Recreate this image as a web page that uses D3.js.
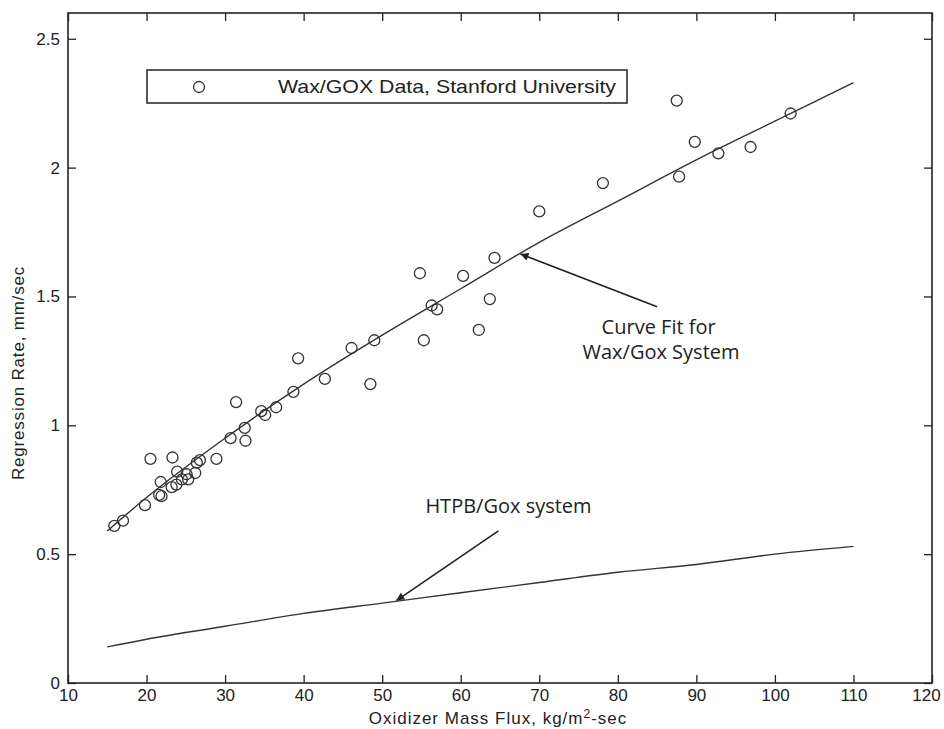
<!DOCTYPE html>
<html>
<head>
<meta charset="utf-8">
<script src="https://cdn.jsdelivr.net/npm/d3@7"></script>
<style>
  body { margin: 0; background: #fff; }
  svg { display: block; }
  .axis text { font-family: "Liberation Sans", Arial, sans-serif; font-size: 17px; fill: #222; }
  .axis line { stroke: #222; stroke-width: 1.3; }
  .axis path { display: none; }
  .lbl { font-family: "Liberation Sans", Arial, sans-serif; fill: #222; }
  .note { font-family: "Open Sans", "DejaVu Sans", sans-serif; fill: #222; }
</style>
</head>
<body>
<div id="chart"></div>
<script>
// measured points (oxidizer mass flux kg/m2-sec, regression rate mm/sec)
const waxFlux = [15.9, 17.0, 19.8, 20.5, 23.3, 21.8, 21.6, 21.9, 23.2, 23.9, 23.8, 24.5, 25.1, 25.3,
  26.2, 26.4, 26.8, 28.9, 30.7, 31.4, 32.5, 32.6, 34.6, 35.1, 36.5, 38.7, 39.3, 42.7, 46.1, 49.0,
  48.5, 54.8, 55.3, 56.3, 57.0, 60.3, 62.3, 63.7, 64.3, 70.0, 78.1, 87.5, 87.8, 89.8, 92.8, 96.9, 102.0];
const waxRate = [0.61, 0.63, 0.69, 0.87, 0.875, 0.78, 0.73, 0.725, 0.76, 0.82, 0.77, 0.79, 0.81, 0.79,
  0.815, 0.855, 0.865, 0.87, 0.95, 1.09, 0.99, 0.94, 1.055, 1.04, 1.07, 1.13, 1.26, 1.18, 1.30, 1.33,
  1.16, 1.59, 1.33, 1.465, 1.45, 1.58, 1.37, 1.49, 1.65, 1.83, 1.94, 2.26, 1.965, 2.10, 2.055, 2.08, 2.21];

// curve fit for wax/gox and the HTPB/gox line
const fitFlux = [15, 20, 30, 40, 50, 60, 70, 80, 90, 100, 110];
const waxFitRate = [0.59, 0.72, 0.95, 1.16, 1.35, 1.53, 1.71, 1.87, 2.03, 2.18, 2.33];
const htpbRate = [0.14, 0.17, 0.22, 0.27, 0.31, 0.35, 0.39, 0.43, 0.46, 0.50, 0.53];

const xTicks = [10, 20, 30, 40, 50, 60, 70, 80, 90, 100, 110, 120];
const yTicks = [0, 0.5, 1, 1.5, 2, 2.5];
const yTickLabels = ["0", "0.5", "1", "1.5", "2", "2.5"];

const width = 944, height = 729;
const margin = { top: 13, right: 12, bottom: 46, left: 68 };
const innerW = width - margin.left - margin.right;
const innerH = height - margin.top - margin.bottom;

const svg = d3.select("#chart").append("svg")
  .attr("width", width)
  .attr("height", height);

const g = svg.append("g").attr("transform", `translate(${margin.left},${margin.top})`);

const x = d3.scaleLinear().domain([10, 120]).range([0, innerW]);
const y = d3.scaleLinear().domain([0, 2.6]).range([innerH, 0]);

// axes, ticks drawn inward on all four sides
const xAxis = g.append("g").attr("class", "axis")
  .attr("transform", `translate(0,${innerH})`)
  .call(d3.axisBottom(x).tickValues(xTicks).tickSize(-8).tickPadding(6).tickFormat(d3.format("d")));
// last label sits against the page edge
xAxis.selectAll("text").filter(d => d === 120).attr("dx", -6);

g.append("g").attr("class", "axis")
  .call(d3.axisTop(x).tickValues(xTicks).tickSize(-8).tickFormat(""));
g.append("g").attr("class", "axis")
  .call(d3.axisLeft(y).tickValues(yTicks).tickSize(-8).tickPadding(8).tickFormat((d, i) => yTickLabels[i]));
g.append("g").attr("class", "axis")
  .attr("transform", `translate(${innerW},0)`)
  .call(d3.axisRight(y).tickValues(yTicks).tickSize(-8).tickFormat(""));

// frame
g.append("rect")
  .attr("width", innerW).attr("height", innerH)
  .attr("fill", "none").attr("stroke", "#222").attr("stroke-width", 1.6);

const line = d3.line().x(d => x(d[0])).y(d => y(d[1])).curve(d3.curveMonotoneX);

g.append("path")
  .datum(fitFlux.map((f, i) => [f, waxFitRate[i]]))
  .attr("d", line)
  .attr("fill", "none").attr("stroke", "#333").attr("stroke-width", 1.4);

g.append("path")
  .datum(fitFlux.map((f, i) => [f, htpbRate[i]]))
  .attr("d", line)
  .attr("fill", "none").attr("stroke", "#333").attr("stroke-width", 1.4);

g.selectAll(".pt")
  .data(waxFlux.map((f, i) => [f, waxRate[i]]))
  .enter().append("circle")
  .attr("class", "pt")
  .attr("cx", d => x(d[0]))
  .attr("cy", d => y(d[1]))
  .attr("r", 5.5)
  .attr("fill", "none").attr("stroke", "#333").attr("stroke-width", 1.3);

// legend
const legend = svg.append("g").attr("transform", "translate(147,70)");
legend.append("rect").attr("width", 480).attr("height", 33)
  .attr("fill", "#fff").attr("stroke", "#222").attr("stroke-width", 1.5);
legend.append("circle").attr("cx", 52).attr("cy", 17).attr("r", 5.5)
  .attr("fill", "none").attr("stroke", "#333").attr("stroke-width", 1.3);
legend.append("text").attr("class", "lbl")
  .attr("x", 131).attr("y", 23).attr("font-size", 19)
  .attr("textLength", 338).attr("lengthAdjust", "spacingAndGlyphs")
  .text("Wax/GOX Data, Stanford University");

// annotations
svg.append("defs").append("marker")
  .attr("id", "arrow").attr("viewBox", "0 0 10 10")
  .attr("refX", 10).attr("refY", 5)
  .attr("markerWidth", 11).attr("markerHeight", 8)
  .attr("markerUnits", "userSpaceOnUse")
  .attr("orient", "auto")
  .append("path").attr("d", "M0,0 L10,5 L0,10 Z").attr("fill", "#222");

g.append("line")
  .attr("x1", x(85)).attr("y1", y(1.46))
  .attr("x2", x(67.6)).attr("y2", y(1.665))
  .attr("stroke", "#222").attr("stroke-width", 1.6).attr("marker-end", "url(#arrow)");
g.append("text").attr("class", "note")
  .attr("x", x(85.2)).attr("y", y(1.355)).attr("text-anchor", "middle").attr("font-size", 20)
  .text("Curve Fit for");
g.append("text").attr("class", "note")
  .attr("x", x(85.5)).attr("y", y(1.258)).attr("text-anchor", "middle").attr("font-size", 20)
  .text("Wax/Gox System");

g.append("line")
  .attr("x1", x(64.8)).attr("y1", y(0.59))
  .attr("x2", x(51.8)).attr("y2", y(0.32))
  .attr("stroke", "#222").attr("stroke-width", 1.6).attr("marker-end", "url(#arrow)");
g.append("text").attr("class", "note")
  .attr("x", x(55.5)).attr("y", y(0.66)).attr("font-size", 20)
  .text("HTPB/Gox system");

// axis titles
svg.append("text").attr("class", "lbl")
  .attr("x", 498).attr("y", 724).attr("text-anchor", "middle")
  .attr("font-size", 17).attr("letter-spacing", 1)
  .html("Oxidizer Mass Flux, kg/m<tspan dy='-6' font-size='12'>2</tspan><tspan dy='6'>-sec</tspan>");
svg.append("text").attr("class", "lbl")
  .attr("transform", "translate(24,373) rotate(-90)")
  .attr("text-anchor", "middle").attr("font-size", 17).attr("letter-spacing", 0.8)
  .text("Regression Rate, mm/sec");
</script>
</body>
</html>
